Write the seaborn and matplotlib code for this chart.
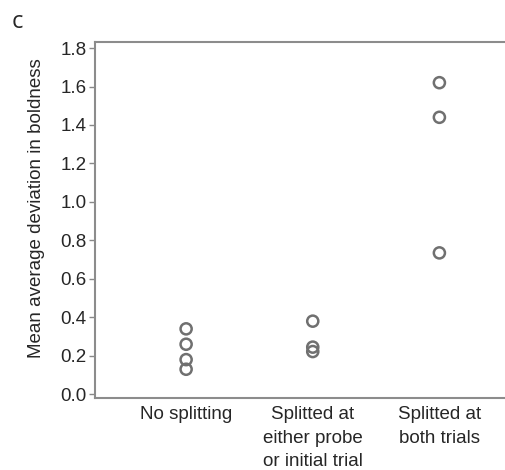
import pandas as pd
import matplotlib
matplotlib.use("Agg")
import matplotlib.pyplot as plt
import seaborn as sns

sns.set_style("white")
plt.rcParams['font.family'] = ['Liberation Sans', 'DejaVu Sans']

# categories and values
categories = ["No splitting",
              "Splitted at\neither probe\nor initial trial",
              "Splitted at\nboth trials"]
no_split = [0.34, 0.26, 0.18, 0.13]
split_one = [0.38, 0.245, 0.222]
split_both = [1.62, 1.44, 0.735]

df = pd.DataFrame({
    'group': [categories[0]] * len(no_split) + [categories[1]] * len(split_one)
             + [categories[2]] * len(split_both),
    'value': no_split + split_one + split_both,
})

fig = plt.figure(figsize=(5.05, 4.70), dpi=100)
ax = fig.add_axes([0.188, 0.153, 0.82, 0.757])

sns.stripplot(data=df, x='group', y='value', order=categories, jitter=False,
              size=8, linewidth=1.8, edgecolor='#707070', color='#707070', ax=ax)
for coll in ax.collections:
    coll.set_facecolor('none')
    coll.set_edgecolor('#707070')

ax.set_ylim(-0.02, 1.83)
ax.set_xlim(-0.72, 2.55)
ax.set_yticks([0.0, 0.2, 0.4, 0.6, 0.8, 1.0, 1.2, 1.4, 1.6, 1.8])
ax.set_yticklabels([f"{v:.1f}" for v in ax.get_yticks()])

ax.set_xlabel('')
ax.set_ylabel('Mean average deviation in boldness', fontsize=13.5)
ax.yaxis.set_label_coords(-0.12, 0.535)
ax.tick_params(axis='y', labelsize=13.5, length=4, width=1, color='#888888',
               left=True, pad=2)
ax.tick_params(axis='x', labelsize=13.5, length=0, pad=6)
for lbl in ax.get_xticklabels():
    lbl.set_linespacing(1.5)

for side in ['left', 'top', 'bottom']:
    ax.spines[side].set_color('#8c8c8c')
    ax.spines[side].set_linewidth(1.5)
ax.spines['right'].set_visible(False)

fig.text(0.024, 0.953, 'c', fontsize=17, family=['Open Sans', 'DejaVu Sans'],
         ha='left', va='center')

fig.savefig('out.png', dpi=100)
